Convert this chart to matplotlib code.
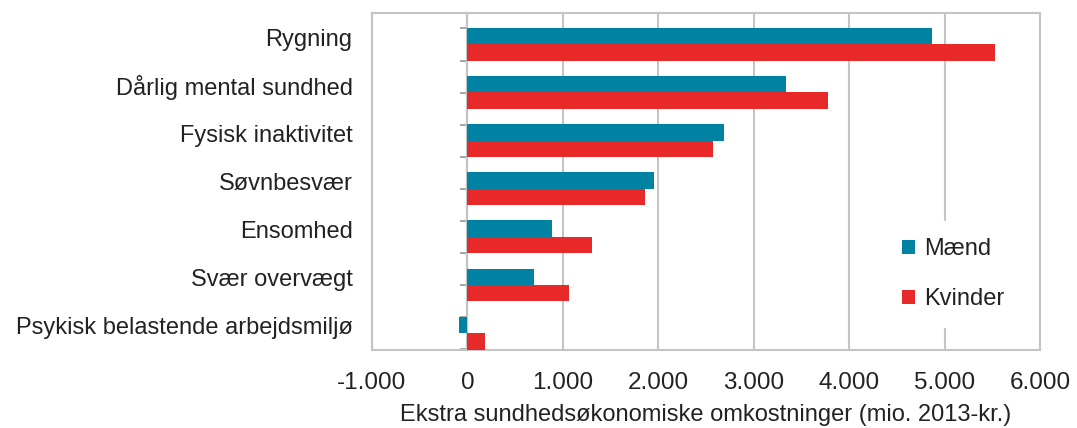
import matplotlib
matplotlib.use("Agg")
from matplotlib import pyplot as plt
import numpy as np

plt.rcParams['font.family'] = ['Liberation Sans', 'DejaVu Sans']

categories = ['Rygning', 'Dårlig mental sundhed', 'Fysisk inaktivitet', 'Søvnbesvær',
              'Ensomhed', 'Svær overvægt', 'Psykisk belastende arbejdsmiljø']
maend = [4870, 3340, 2690, 1950, 890, 700, -90]
kvinder = [5530, 3780, 2570, 1860, 1310, 1060, 180]
xticks = [-1000, 0, 1000, 2000, 3000, 4000, 5000, 6000]
xticklabels = ['-1.000', '0', '1.000', '2.000', '3.000', '4.000', '5.000', '6.000']

blue = '#0083a2'
red = '#e8292a'
grid = '#c4c4c4'
txt = '#222222'

fig = plt.figure(figsize=(10.77, 4.28), dpi=100)
ax = fig.add_axes([372 / 1077, 78 / 428, 668 / 1077, 337 / 428])

y = np.arange(len(categories))
h = 0.34
ax.barh(y - 0.02, maend, height=h, color=blue, label='Mænd', zorder=3)
ax.barh(y + 0.32, kvinder, height=h, color=red, label='Kvinder', zorder=3)

ax.set_xlim(-1000, 6000)
ax.set_ylim(6.5, -0.5)
ax.set_xticks(xticks)
ax.set_xticklabels(xticklabels, fontsize=17.5, color=txt)
ax.set_yticks(y)
ax.set_yticklabels(categories, fontsize=17, color=txt)
ax.tick_params(axis='both', length=0)
ax.tick_params(axis='y', pad=14)
ax.tick_params(axis='x', pad=16)
ax.grid(axis='x', color=grid, linewidth=1.5, zorder=0)
for s in ax.spines.values():
    s.set_color(grid)
    s.set_linewidth(1.5)

# vertical axis line at zero with small tick marks
sec = ax.secondary_yaxis(1 / 7)
sec.set_yticks(np.arange(-0.18, 6.6, 2 / 3))
sec.set_yticklabels([])
sec.spines['left'].set_color('#9a9a9a')
sec.spines['left'].set_linewidth(1.5)
sec.tick_params(axis='y', direction='out', length=5, width=1.2, color='#9a9a9a')

ax.set_xlabel('Ekstra sundhedsøkonomiske omkostninger (mio. 2013-kr.)', fontsize=17,
              color=txt, labelpad=7)

leg = ax.legend(loc='center', bbox_to_anchor=(0.87, 0.225), frameon=True, fontsize=17,
                handlelength=0.55, handleheight=0.55, handletextpad=0.35, labelspacing=1.2,
                borderpad=0.7, framealpha=1, edgecolor='white')
for t in leg.get_texts():
    t.set_color(txt)
leg.set_zorder(5)

fig.savefig('out.png', dpi=100)
